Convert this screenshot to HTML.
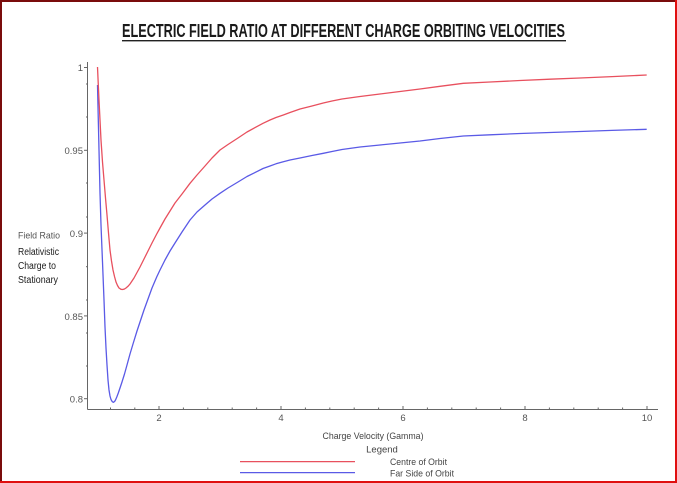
<!DOCTYPE html>
<html>
<head>
<meta charset="utf-8">
<style>
  html,body{margin:0;padding:0;background:#fff;}
  svg{display:block;}
  text{font-family:"Liberation Sans",Arial,sans-serif;}
</style>
</head>
<body>
<svg width="677" height="483" viewBox="0 0 677 483" xmlns="http://www.w3.org/2000/svg">
  <rect x="0" y="0" width="677" height="483" fill="#ffffff"/>
  <!-- border -->
  <rect x="0" y="0" width="677" height="2" fill="#7a0c0c"/>
  <rect x="0" y="0" width="2" height="483" fill="#7a0c0c"/>
  <rect x="675" y="0" width="2" height="483" fill="#e01010"/>
  <rect x="0" y="481" width="677" height="2" fill="#e01010"/>

  <!-- title -->
  <text x="122" y="37" font-size="18.5" font-weight="bold" fill="#1a1a1a" textLength="443" lengthAdjust="spacingAndGlyphs">ELECTRIC FIELD RATIO AT DIFFERENT CHARGE ORBITING VELOCITIES</text>
  <rect x="122" y="40" width="444" height="1.4" fill="#222"/>

  <!-- axes -->
  <g stroke="#666" stroke-width="1" fill="none">
    <line x1="87.5" y1="62" x2="87.5" y2="409.5"/>
    <line x1="87.5" y1="409.5" x2="658" y2="409.5"/>
    <!-- y major ticks -->
    <line x1="84" y1="67.5" x2="87.5" y2="67.5"/>
    <line x1="84" y1="150.3" x2="87.5" y2="150.3"/>
    <line x1="84" y1="233.1" x2="87.5" y2="233.1"/>
    <line x1="84" y1="315.9" x2="87.5" y2="315.9"/>
    <line x1="84" y1="398.7" x2="87.5" y2="398.7"/>
    <!-- y minor ticks -->
    <line x1="86" y1="84" x2="87.5" y2="84"/>
    <line x1="86" y1="117" x2="87.5" y2="117"/>
    <line x1="86" y1="183" x2="87.5" y2="183"/>
    <line x1="86" y1="217" x2="87.5" y2="217"/>
    <line x1="86" y1="266.7" x2="87.5" y2="266.7"/>
    <line x1="86" y1="300" x2="87.5" y2="300"/>
    <line x1="86" y1="333" x2="87.5" y2="333"/>
    <line x1="86" y1="366" x2="87.5" y2="366"/>
    <!-- x ticks -->
    <line x1="110.5" y1="409.5" x2="110.5" y2="407.5"/>
    <line x1="134.8" y1="409.5" x2="134.8" y2="407.5"/>
    <line x1="159" y1="409.5" x2="159" y2="406"/>
    <line x1="183.4" y1="409.5" x2="183.4" y2="407.5"/>
    <line x1="207.8" y1="409.5" x2="207.8" y2="407.5"/>
    <line x1="232.2" y1="409.5" x2="232.2" y2="407.5"/>
    <line x1="256.6" y1="409.5" x2="256.6" y2="407.5"/>
    <line x1="281" y1="409.5" x2="281" y2="406"/>
    <line x1="305.4" y1="409.5" x2="305.4" y2="407.5"/>
    <line x1="329.8" y1="409.5" x2="329.8" y2="407.5"/>
    <line x1="354.2" y1="409.5" x2="354.2" y2="407.5"/>
    <line x1="378.6" y1="409.5" x2="378.6" y2="407.5"/>
    <line x1="403" y1="409.5" x2="403" y2="406"/>
    <line x1="427.4" y1="409.5" x2="427.4" y2="407.5"/>
    <line x1="451.8" y1="409.5" x2="451.8" y2="407.5"/>
    <line x1="476.2" y1="409.5" x2="476.2" y2="407.5"/>
    <line x1="500.6" y1="409.5" x2="500.6" y2="407.5"/>
    <line x1="525" y1="409.5" x2="525" y2="406"/>
    <line x1="549.4" y1="409.5" x2="549.4" y2="407.5"/>
    <line x1="573.8" y1="409.5" x2="573.8" y2="407.5"/>
    <line x1="598.2" y1="409.5" x2="598.2" y2="407.5"/>
    <line x1="622.6" y1="409.5" x2="622.6" y2="407.5"/>
    <line x1="647" y1="409.5" x2="647" y2="406"/>
  </g>

  <!-- y tick labels -->
  <g font-size="9.5" fill="#555" text-anchor="end">
    <text x="83" y="71">1</text>
    <text x="83" y="154">0.95</text>
    <text x="83" y="237">0.9</text>
    <text x="83" y="320">0.85</text>
    <text x="83" y="402.5">0.8</text>
  </g>
  <!-- x tick labels -->
  <g font-size="9.5" fill="#555" text-anchor="middle">
    <text x="159" y="421">2</text>
    <text x="281" y="421">4</text>
    <text x="403" y="421">6</text>
    <text x="525" y="421">8</text>
    <text x="647" y="421">10</text>
  </g>

  <!-- y axis title -->
  <text x="18" y="238.5" font-size="9" fill="#555" textLength="42" lengthAdjust="spacingAndGlyphs">Field Ratio</text>
  <g font-size="10" fill="#1a1a1a">
    <text x="18" y="255" textLength="41" lengthAdjust="spacingAndGlyphs">Relativistic</text>
    <text x="18" y="269" textLength="38" lengthAdjust="spacingAndGlyphs">Charge to</text>
    <text x="18" y="283" textLength="40" lengthAdjust="spacingAndGlyphs">Stationary</text>
  </g>

  <!-- x axis title -->
  <text x="373" y="439" font-size="9.5" fill="#444" text-anchor="middle" textLength="101" lengthAdjust="spacingAndGlyphs">Charge Velocity (Gamma)</text>
  <text x="382" y="452.5" font-size="9.5" fill="#444" text-anchor="middle">Legend</text>

  <!-- legend -->
  <line x1="240" y1="461.6" x2="355" y2="461.6" stroke="#e8505e" stroke-width="1.3"/>
  <line x1="240" y1="472.6" x2="355" y2="472.6" stroke="#5a5ae6" stroke-width="1.3"/>
  <text x="390" y="465" font-size="9.5" fill="#444" textLength="57" lengthAdjust="spacingAndGlyphs">Centre of Orbit</text>
  <text x="390" y="476.5" font-size="9.5" fill="#444" textLength="64" lengthAdjust="spacingAndGlyphs">Far Side of Orbit</text>

  <!-- series -->
  <polyline fill="none" stroke="#5a5ae6" stroke-width="1.3" stroke-linejoin="round"
    points="97.5,85 98.3,120 99,150 100,193 101,225 102.5,262 104,300 105,327 106,348 107,365 108,380 109,390 110,396 111,399.5 112.2,401.6 113.3,402.3 114.5,401.6 115.5,400 117,396.5 118.3,393 120,388 122,382 124.5,374 127,365 130,354 133.3,343 137,331 140,322 144,310 148,299 152,288 156.7,277 160,270 165,260 170,251 175,243 182,232 190,220 197,212 205,205 212,199 220,193.3 228,188 238,182 247,176.5 256.7,171.7 263,168.5 270,166 276,163.8 283.3,161.7 290,160 300,158 312,155.5 323.3,153.3 332,151.5 342,149.5 360,147 380,145 400,143 420,141 440,138.5 463.3,136 490,134.8 520,133.5 550,132.5 580,131.5 612,130.4 646.7,129.3"/>
  <polyline fill="none" stroke="#e8505e" stroke-width="1.3" stroke-linejoin="round"
    points="97.5,67 98.3,85 99,100 100,120 101,140 102.5,162 104,180 105.5,198 107,215 108.5,233 110,250 111.5,261 113,270 114.5,276.5 116,282 117.5,285.5 119,288 121,289.3 122.7,289.5 124.5,289 126,288 128,286.3 130,284 132,281 134,278 137,272.5 140,267 144,259 148,251 152,243 156.7,234 160,228 165,219 170,211 175,203 182,194 190,183.3 197,175 205,166 212,158 220,150 228,144.5 238,138 247,132 256.7,126.7 263,123.3 270,120 276,117.5 283.3,115 290,112.5 300,109 312,106 323.3,103 332,101 342,99 360,96.5 380,94 400,91.5 420,89 440,86.3 463.3,83.3 490,82 520,80.5 550,79.2 580,78 612,76.6 646.7,75"/>
</svg>
</body>
</html>
